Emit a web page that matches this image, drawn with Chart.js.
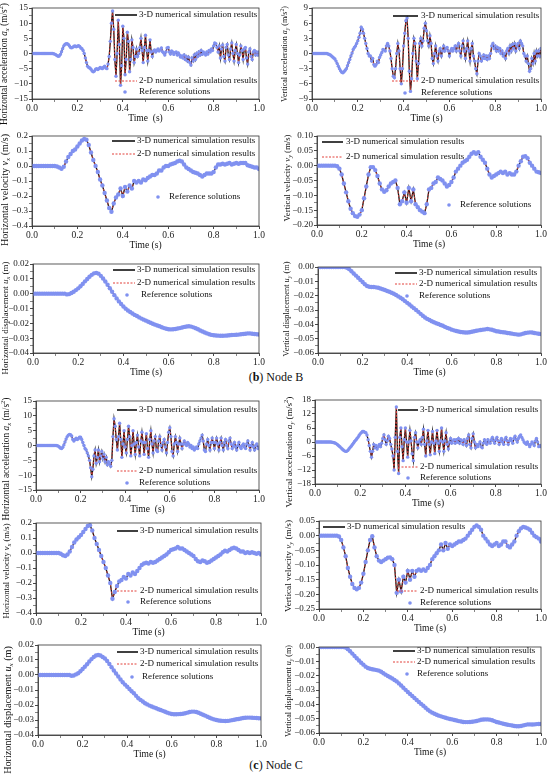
<!DOCTYPE html>
<html>
<head>
<meta charset="utf-8">
<script src="https://cdn.jsdelivr.net/npm/chart.js@4.4.1/dist/chart.umd.min.js"></script>
<style>
html, body { margin: 0; padding: 0; background: #fff; }
#page { position: relative; width: 550px; height: 776px; overflow: hidden; }
#page canvas { position: absolute; }
.cap { position: absolute; left: 0; width: 552px; text-align: center; font-family: 'Liberation Serif', serif; font-size: 12px; line-height: 14px; color: #111; }
</style>
</head>
<body>
<div id="page">
  <div class="cap" style="top:370px">(<b>b</b>) Node B</div>
  <div class="cap" style="top:758px">(<b>c</b>) Node C</div>
</div>
<script>
// axis ticks
const timeTicks = [0, 0.2, 0.4, 0.6, 0.8, 1.0];
const accTicksBx = [-15, -10, -5, 0, 5, 10, 15];
const accTicksBy = [-9, -6, -3, 0, 3, 6, 9];
const accTicksCx = [-15, -10, -5, 0, 5, 10, 15];
const accTicksCy = [-18, -12, -6, 0, 6, 12, 18];
const velTicksX = [-0.4, -0.3, -0.2, -0.1, 0, 0.1, 0.2];
const velTicksBy = [-0.20, -0.15, -0.10, -0.05, 0, 0.05, 0.10];
const velTicksCy = [-0.25, -0.20, -0.15, -0.10, -0.05, 0, 0.05];
const dispTicksX = [-0.04, -0.03, -0.02, -0.01, 0, 0.01, 0.02];
const dispTicksY = [-0.06, -0.05, -0.04, -0.03, -0.02, -0.01, 0];

const seriesNames = ['3-D numerical simulation results', '2-D numerical simulation results', 'Reference solutions'];

// Node B, sampled every 0.005 s (acceleration) or 0.01 s
const bAx = [
  0,0,0,0,0,0,0,0,0,0,
  0,0,0,0,0,0,0,0,0,-0.1,
  -0.2,-0.4,-0.7,-0.9,-0.8,-0.3,0.6,1.6,2.5,3.0,
  3.2,3.2,3.0,2.5,2.0,1.9,2.1,2.4,2.5,2.2,
  2.4,2.6,2.3,1.8,1.6,1.0,0,-1.5,-3.0,-4.2,
  -4.6,-4.8,-5.2,-5.8,-6.0,-5.8,-5.2,-5.0,-5.3,-5.0,
  -4.6,-4.8,-5.0,-4.5,-4.2,-4.8,-5.0,-3.5,-1.0,4,
  10,14,8,-2,-7.5,0,11,3,-10.5,-4,
  9,5,-7,-2,7,4,-6,-2,4.5,2,
  -3,-1,1.5,-1,0,2,5,1,-3,2,
  6,1,-2.5,1,4.5,0.5,-1,0.8,1.2,0.5,
  1.0,1.5,0.8,1.2,1.8,0.6,0.2,-0.5,0.5,1.8,
  2.0,0.5,-0.2,0.8,0.5,-0.3,0.3,0.5,-0.5,0.2,
  -0.5,-1.2,-0.8,-1.5,-0.5,-2.0,-1.0,-2.5,-1.2,-3.0,
  -3.8,-1.5,-2.5,-0.5,-2.0,0,-1.0,0.5,-0.5,1.0,
  -0.3,0.5,0,-0.5,0.5,-0.2,1.0,0.5,1.5,1.0,
  2.5,3.5,3.2,2.0,0.5,2.5,-1.5,1.5,2.8,-1.0,
  -2.5,2.0,3.0,-0.5,-2.0,1.5,3.5,0,-2.5,1.0,
  3.0,0,-3.0,-0.5,2.5,1.0,-2.0,1.5,2.0,-1.5,
  -3.5,0.5,1.5,-1.0,-2.0,0.5,1.0,-0.5,0.5,-0.5,
  0.5
];
const bAy = [
  0,0,0,0,0,0,0,0,0,0,
  0,0,0,0,-0.1,-0.2,-0.3,-0.5,-0.7,-0.9,
  -1.1,-1.5,-2.0,-2.5,-3.0,-3.4,-3.7,-3.8,-3.6,-3.3,
  -3.0,-2.4,-1.8,-1.2,-0.5,0.1,0.8,1.2,1.5,2.0,
  2.5,3.2,4.0,5.2,4.8,4.0,3.0,2.0,1.0,0,
  -0.5,-0.5,-1.5,-1.0,-2.2,-2.5,-2.2,-1.5,-1.8,-0.8,
  -0.3,0.2,0.8,0.7,0.5,1.5,2.0,1.5,0.5,-1.0,
  -3.0,-4.5,-4.8,-3.0,0,2.0,0.5,-3.0,-6.0,-3.0,
  1.5,4.0,6.5,7.0,3.0,-3.5,-7.5,-5.0,0,3.0,
  2.0,-1.5,-5.0,-2.0,2.0,3.0,1.5,2.5,5.0,6.0,
  4.5,2.5,1.5,3.5,2.0,-1.0,-2.0,0,1.5,-0.5,
  -1.5,0.5,1.0,-0.5,0.5,1.5,0.5,1.0,1.2,0.5,
  -0.5,0.5,1.0,0.5,1.0,1.5,0.5,1.5,2.0,0.5,
  -0.5,1.5,2.5,0.5,-1.0,1.0,2.5,0.5,-1.5,1.0,
  2.0,-0.5,-1.5,-3.0,-4.0,-1.5,0,-0.5,-1.5,-1.0,
  -0.3,-1.0,-0.5,-1.2,-0.5,-1.0,0,1.5,2.0,1.0,
  1.5,0.5,1.2,0.5,1.0,0,0.5,-0.5,0,-1.0,
  0.5,1.0,0,1.5,0.5,1.8,1.0,2.0,0.5,1.5,
  2.0,1.0,2.5,2.0,1.5,0,-0.5,-1.5,-0.5,-2.0,
  -3.5,-3.0,-1.0,-2.0,0,-1.5,0.5,-0.5,0.5,-0.5,
  1.0
];
const bVx = [
  0,0,0,0,0,0,0,0,0,0,
  0,-0.003,-0.01,-0.018,-0.005,0.03,0.06,0.08,0.10,0.11,
  0.13,0.15,0.17,0.18,0.175,0.14,0.09,0.04,0.0,-0.04,
  -0.09,-0.13,-0.18,-0.23,-0.28,-0.305,-0.25,-0.21,-0.19,-0.15,
  -0.20,-0.14,-0.17,-0.13,-0.15,-0.10,-0.11,-0.10,-0.11,-0.09,
  -0.095,-0.08,-0.07,-0.06,-0.06,-0.05,-0.03,-0.03,-0.01,0.0,
  0.0,0.01,0.015,0.02,0.03,0.035,0.03,0.01,-0.01,-0.02,
  -0.03,-0.04,-0.045,-0.05,-0.06,-0.07,-0.06,-0.05,-0.05,-0.05,
  -0.04,-0.01,0.01,0.01,0.015,0.01,0.015,0.02,0.01,0.015,
  0.02,0.015,0.02,0.02,0.02,0.005,0.0,-0.005,-0.01,-0.01,
  -0.02
];
const bVy = [
  0,0,0,0,0,0,0,0,0,-0.002,
  -0.01,-0.03,-0.06,-0.09,-0.12,-0.145,-0.16,-0.17,-0.172,-0.165,
  -0.15,-0.11,-0.07,-0.03,-0.005,-0.005,-0.015,-0.035,-0.06,-0.08,
  -0.088,-0.083,-0.07,-0.06,-0.055,-0.05,-0.075,-0.13,-0.12,-0.09,
  -0.125,-0.075,-0.12,-0.08,-0.13,-0.14,-0.15,-0.155,-0.16,-0.13,
  -0.08,-0.075,-0.06,-0.055,-0.04,-0.045,-0.05,-0.06,-0.07,-0.065,
  -0.055,-0.04,-0.02,-0.01,0.0,0.01,0.015,0.02,0.03,0.04,
  0.045,0.04,0.045,0.03,0.02,0.01,-0.01,-0.03,-0.04,-0.035,
  -0.03,-0.025,-0.02,-0.025,-0.02,-0.03,-0.025,-0.03,-0.03,-0.02,
  0.0,0.015,0.03,0.032,0.025,0.01,0.0,-0.01,-0.02,-0.022,
  -0.025
];
const bUx = [
  0,0,0,0,0,0,0,0,0,0,
  0,0,0,0,0,-0.0005,-0.0003,0.0005,0.0013,0.0024,
  0.0036,0.005,0.0066,0.0083,0.0099,0.0114,0.0127,0.0137,0.014,0.0135,
  0.012,0.0102,0.0082,0.006,0.0037,0.0013,-0.001,-0.0032,-0.0052,-0.007,
  -0.0087,-0.0101,-0.0113,-0.0124,-0.0134,-0.0143,-0.0151,-0.016,-0.0168,-0.0175,
  -0.0182,-0.0189,-0.0196,-0.0203,-0.0209,-0.0215,-0.022,-0.0226,-0.0232,-0.0237,
  -0.024,-0.0241,-0.024,-0.0238,-0.0235,-0.0232,-0.0228,-0.0224,-0.0221,-0.022,
  -0.0222,-0.0227,-0.0233,-0.024,-0.0248,-0.0255,-0.0262,-0.0268,-0.0274,-0.0278,
  -0.028,-0.0282,-0.0283,-0.0284,-0.0284,-0.0283,-0.0282,-0.028,-0.0279,-0.0278,
  -0.0277,-0.0276,-0.0274,-0.0272,-0.027,-0.0268,-0.0268,-0.027,-0.0272,-0.0274,
  -0.0275
];
const bUy = [
  0,0,0,0,0,0,0,0,0,0,
  0,0,0,-0.0005,-0.0015,-0.003,-0.0045,-0.006,-0.0075,-0.009,
  -0.0105,-0.012,-0.0133,-0.0138,-0.014,-0.014,-0.0142,-0.0145,-0.015,-0.0155,
  -0.016,-0.0167,-0.0173,-0.018,-0.0187,-0.0195,-0.0205,-0.0215,-0.0225,-0.0238,
  -0.025,-0.0262,-0.0275,-0.0287,-0.03,-0.0313,-0.0327,-0.034,-0.0352,-0.0362,
  -0.037,-0.0378,-0.0385,-0.0392,-0.0398,-0.0405,-0.041,-0.0418,-0.0425,-0.043,
  -0.0437,-0.0442,-0.0447,-0.045,-0.0453,-0.0455,-0.0457,-0.0457,-0.0455,-0.0452,
  -0.0448,-0.0445,-0.0442,-0.044,-0.0437,-0.0435,-0.0433,-0.0435,-0.0438,-0.0443,
  -0.0448,-0.045,-0.0453,-0.0455,-0.0457,-0.046,-0.0462,-0.0465,-0.0468,-0.047,
  -0.0472,-0.047,-0.0465,-0.046,-0.0458,-0.0456,-0.0457,-0.046,-0.0463,-0.0466,
  -0.0468
];

// Node C
const cAx = [
  0,0,0,0,0,0,0,0,0,0,
  0,0,0,0,0,0,0,0,0,-0.1,
  -0.2,-0.5,-0.9,-1.0,-0.6,0.2,1.2,2.2,3.0,3.5,
  3.7,3.6,3.2,2.0,1.5,2.0,2.5,2.0,2.3,2.8,
  2.8,2.0,1.0,0,-1.0,-1.5,-2.5,-3.5,-5.0,-7.5,
  -10.5,-8,-3.5,-1.5,-6,-4,-1.5,-5.5,-3.5,-2.0,
  -4.5,-3.0,-5.5,-4.0,-6.5,-5.5,-6.0,-7.0,-5.0,3.0,
  9.0,6.5,2.0,-1.5,3.0,7.5,2.0,-4.0,0.5,5.0,
  -0.5,-2.5,2.0,6.5,3.0,-3.5,0,5.0,0.5,-3.0,
  1.0,3.5,-0.5,-3.5,1.5,4.5,1.0,-3.0,1.0,4.0,
  -1.0,-4.0,2.0,5.0,0.5,-2.5,1.5,3.0,-1.5,-2.0,
  1.5,3.0,0,-1.5,1.0,2.0,-0.5,-2.5,1.0,4.5,
  6.0,3.0,-2.0,-3.5,0.5,3.0,1.0,-2.0,0.5,2.5,
  0.5,-1.0,0.5,1.5,0.5,0,1.0,0.5,-0.5,0,
  -1.0,-0.5,-1.5,-1.0,-0.5,-1.0,0.5,1.5,2.5,3.5,
  1.5,-1.5,-2.0,0.5,2.0,0,-1.5,1.0,2.5,1.0,
  -1.0,1.0,2.5,0.5,-1.5,1.0,2.5,0,-1.5,1.0,
  2.0,0,-1.0,1.5,2.5,0.5,-1.0,0,1.0,-0.5,
  -1.5,0,1.0,-0.5,-1.0,0,0.5,-0.5,-1.0,0.5,
  1.5,0,-1.5,0,1.0,-0.5,-1.5,0,0.5,-1.0,
  -0.5
];
const cAy = [
  0,0,0,0,0,0,0,0,0,0,
  0,0,0,0,0,-0.1,-0.2,-0.3,-0.5,-0.8,
  -1.2,-1.6,-2.0,-2.5,-3.0,-3.4,-3.8,-4.0,-4.0,-3.6,
  -3.0,-2.4,-1.8,-1.2,-0.5,0.2,0.8,1.4,2.0,2.8,
  3.5,4.0,4.5,4.5,4.2,4.0,3.0,1.0,-1.5,-4.0,
  -6.5,-4.0,-1.0,-2.5,-1.5,-3.0,-2.0,-1.0,-2.0,-0.5,
  1.5,3.0,1.0,-1.0,0.5,2.5,1.5,-1.0,-3.0,-6.0,
  -12.0,2.0,15.0,-4.0,-13.5,2.0,6.0,-2.0,-8.0,1.0,
  6.0,0,-6.5,0,5.0,0.5,-5.0,-8.0,2.0,4.0,
  0,-2.5,0,1.0,-1.0,2.0,5.5,-1.0,-6.0,0.5,
  5.0,-1.0,-5.5,0,4.5,-0.5,-5.0,0.5,5.0,-0.5,
  -4.0,0.5,6.0,0,-4.0,0.5,4.0,-1.0,-3.0,0,
  1.5,-0.5,0.5,1.0,-0.5,1.0,0,1.5,-0.5,1.0,
  0.5,-1.0,1.0,0,-1.5,1.5,3.0,-1.0,-2.5,1.5,
  3.5,0,-2.5,-1.0,-2.0,-1.0,0,-2.0,-2.5,-0.5,
  1.0,0,-1.0,1.0,0,-0.5,1.0,2.0,0.5,-0.5,
  1.0,2.0,0.5,-1.0,0.5,1.5,0,-1.0,1.0,2.0,
  0.5,-1.0,0.5,1.5,0.5,-0.5,1.5,2.5,1.0,0,
  1.5,2.5,3.0,2.0,1.0,0,-0.5,-1.0,0,-1.0,
  -2.0,-1.0,0,-0.5,-1.5,0.5,1.5,0,-2.0,-1.5,
  -2.0
];
const cVx = [
  0,0,0,0,0,0,0,0,0,0,
  0,-0.005,-0.015,-0.02,-0.01,0.01,0.04,0.07,0.09,0.105,
  0.12,0.14,0.16,0.18,0.185,0.15,0.10,0.06,0.02,-0.02,
  -0.06,-0.10,-0.15,-0.20,-0.305,-0.26,-0.22,-0.19,-0.18,-0.16,
  -0.17,-0.14,-0.15,-0.13,-0.14,-0.12,-0.10,-0.08,-0.07,-0.065,
  -0.07,-0.06,-0.065,-0.06,-0.05,-0.04,-0.03,-0.02,-0.01,0.005,
  0.02,0.025,0.03,0.04,0.03,0.03,0.02,0.01,0.0,-0.01,
  -0.02,-0.04,-0.055,-0.06,-0.05,-0.055,-0.065,-0.06,-0.05,-0.04,
  -0.03,-0.02,-0.01,0.005,0.015,0.01,0.02,0.03,0.035,0.03,
  0.02,0.01,0.01,0.0,0.005,0.0,0.005,0.0,-0.005,0.0,
  -0.01
];
const cVy = [
  0,0,0,0,0,0,0,0,0,-0.003,
  -0.015,-0.04,-0.07,-0.11,-0.14,-0.165,-0.178,-0.183,-0.178,-0.16,
  -0.13,-0.09,-0.05,-0.015,-0.002,-0.04,-0.07,-0.085,-0.09,-0.085,
  -0.08,-0.075,-0.074,-0.08,-0.10,-0.195,-0.15,-0.19,-0.14,-0.16,
  -0.12,-0.15,-0.12,-0.14,-0.12,-0.115,-0.12,-0.115,-0.12,-0.11,
  -0.10,-0.08,-0.07,-0.06,-0.05,-0.03,-0.05,-0.025,-0.045,-0.03,
  -0.035,-0.03,-0.025,-0.02,-0.02,-0.015,-0.01,0.0,0.01,0.02,
  0.03,0.035,0.03,0.02,0.0,-0.01,-0.02,-0.03,-0.035,-0.03,
  -0.025,-0.035,-0.03,-0.02,-0.02,-0.035,-0.04,-0.03,-0.02,0.0,
  0.015,0.025,0.03,0.028,0.025,0.02,0.01,0.0,-0.005,-0.01,
  -0.02
];
const cUx = [
  0,0,0,0,0,0,0,0,0,0,
  0,0,0,0,0,-0.0005,-0.0003,0.0004,0.0012,0.0025,
  0.004,0.0055,0.0072,0.009,0.0106,0.012,0.013,0.0133,0.013,0.012,
  0.011,0.0093,0.0073,0.0052,0.003,0.001,-0.001,-0.003,-0.0048,-0.0064,
  -0.0078,-0.0093,-0.0108,-0.0122,-0.0139,-0.0155,-0.0166,-0.0177,-0.0188,-0.0196,
  -0.0204,-0.021,-0.0216,-0.0222,-0.0228,-0.0233,-0.0239,-0.0245,-0.0251,-0.0256,
  -0.026,-0.0262,-0.0262,-0.0261,-0.026,-0.0258,-0.0255,-0.0251,-0.0247,-0.0244,
  -0.0244,-0.0247,-0.0252,-0.0258,-0.0265,-0.0271,-0.0278,-0.0285,-0.0291,-0.0296,
  -0.03,-0.0303,-0.0305,-0.0306,-0.0307,-0.0306,-0.0304,-0.0301,-0.0298,-0.0295,
  -0.0293,-0.029,-0.0287,-0.0285,-0.0284,-0.0284,-0.0285,-0.0286,-0.0287,-0.0288,
  -0.0289
];
const cUy = [
  0,0,0,0,0,0,0,0,0,0,
  0,0,-0.0004,-0.0015,-0.003,-0.0046,-0.0062,-0.0078,-0.0094,-0.011,
  -0.0123,-0.0137,-0.0147,-0.0152,-0.0155,-0.0158,-0.0161,-0.0165,-0.0173,-0.0183,
  -0.0193,-0.0202,-0.0211,-0.022,-0.023,-0.024,-0.0254,-0.0269,-0.0284,-0.0299,
  -0.0314,-0.0328,-0.0342,-0.0356,-0.037,-0.0384,-0.0397,-0.041,-0.0424,-0.0437,
  -0.0449,-0.0458,-0.0466,-0.0473,-0.0479,-0.0484,-0.0489,-0.0494,-0.0498,-0.0502,
  -0.0505,-0.0509,-0.0513,-0.0517,-0.052,-0.0523,-0.0524,-0.0524,-0.0523,-0.0521,
  -0.0519,-0.0516,-0.0512,-0.0508,-0.0506,-0.0505,-0.0505,-0.0507,-0.0511,-0.0517,
  -0.0523,-0.0527,-0.0531,-0.0535,-0.0539,-0.0542,-0.0545,-0.0548,-0.0551,-0.0553,
  -0.0553,-0.0551,-0.0547,-0.0543,-0.054,-0.054,-0.0541,-0.054,-0.0538,-0.0537,
  -0.0537
];

// y axis title pieces: [text, style]  style: '' normal, 'i' italic, 'sub', 'sup'
function yLabel(words, sym, dir, unit, squared) {
  var s = [[words + ' ', ''], [sym, 'i'], [dir, 'sub'], [' (' + unit, '']];
  if (squared) s.push(['2', 'sup']);
  s.push([')', '']);
  return s;
}

// box = plot frame [left, top, right, bottom] on the page; yt = [x, centre y, length] of y title
// leg = [series, x1, x2, y, text x]
var panels = [
  { vals: bAx, ticks: accTicksBx, dec: 0, xt: 'Time  (s)', title: yLabel('Horizontal acceleration', 'a', 'x', 'm/s', true),
    box: [32, 8, 259, 99], yt: [5, 64, 122],
    leg: [[0, 115, 137, 15, 139], [1, 115, 137, 81, 139], [2, 125, 0, 92, 139]] },
  { vals: bAy, ticks: accTicksBy, dec: 0, xt: 'Time (s)', title: yLabel('Vertical acceleration', 'a', 'y', 'm/s', true),
    box: [312, 8, 541, 99], yt: [285, 54, 96],
    leg: [[0, 393, 418, 16, 421], [1, 392, 418, 81, 421], [2, 405, 0, 93, 421]] },
  { vals: bVx, ticks: velTicksX, dec: 1, xt: 'Time (s)', title: yLabel('Horizontal velocity', 'v', 'x', 'm/s', false),
    box: [32, 136, 259, 226], yt: [5, 190, 112],
    leg: [[0, 112, 135, 141, 137], [1, 112, 135, 154, 137], [2, 158, 0, 197, 169]] },
  { vals: bVy, ticks: velTicksBy, dec: 2, xt: 'Time (s)', title: yLabel('Vertical velocity', 'v', 'y', 'm/s', false),
    box: [317, 136, 541, 225], yt: [288, 178, 87],
    leg: [[0, 322, 343, 142, 346], [1, 322, 343, 157, 346], [2, 449, 0, 205, 460]] },
  { vals: bUx, ticks: dispTicksX, dec: 2, xt: 'Time (s)', title: yLabel('Horizontal displacement', 'u', 'x', 'm', false),
    box: [33, 264, 259, 353], yt: [6, 318, 113],
    leg: [[0, 113, 135, 270, 137], [1, 113, 135, 283, 137], [2, 127, 0, 295, 141]] },
  { vals: bUy, ticks: dispTicksY, dec: 2, xt: 'Time (s)', title: yLabel('Vertical displacement', 'u', 'y', 'm', false),
    box: [318, 267, 541, 353], yt: [287, 309, 95],
    leg: [[0, 395, 417, 273, 419], [1, 395, 417, 284, 419], [2, 407, 0, 296, 419]] },
  { vals: cAx, ticks: accTicksCx, dec: 0, xt: 'Time  (s)', title: yLabel('Horizontal acceleration', 'a', 'x', 'm/s', true),
    box: [36, 401, 259, 490], yt: [7, 459, 123],
    leg: [[0, 117, 137, 410, 139], [1, 117, 137, 471, 139], [2, 127, 0, 483, 139]] },
  { vals: cAy, ticks: accTicksCy, dec: 0, xt: 'Time (s)', title: yLabel('Vertical acceleration', 'a', 'y', 'm/s', true),
    box: [315, 400, 541, 484], yt: [290, 452, 111],
    leg: [[0, 398, 418, 410, 420], [1, 398, 418, 467, 420], [2, 408, 0, 478, 420]] },
  { vals: cVx, ticks: velTicksX, dec: 1, xt: 'Time (s)', title: yLabel('Horizontal velocity', 'v', 'x', 'm/s', false),
    box: [36, 523, 261, 613], yt: [7, 571, 95],
    leg: [[0, 117, 138, 531, 140], [1, 117, 138, 591, 140], [2, 128, 0, 602, 140]] },
  { vals: cVy, ticks: velTicksCy, dec: 2, xt: 'Time (s)', title: yLabel('Vertical velocity', 'v', 'y', 'm/s', false),
    box: [319, 521, 541, 609], yt: [289, 566, 92],
    leg: [[0, 323, 345, 527, 347], [1, 397, 418, 591, 420], [2, 410, 0, 603, 420]] },
  { vals: cUx, ticks: dispTicksX, dec: 2, xt: 'Time (s)', title: yLabel('Horizontal displacement', 'u', 'x', 'm', false),
    box: [38, 645, 261, 735], yt: [8, 710, 128],
    leg: [[0, 117, 138, 652, 140], [1, 117, 138, 664, 140], [2, 132, 0, 677, 142]] },
  { vals: cUy, ticks: dispTicksY, dec: 2, xt: 'Time (s)', title: yLabel('Vertical displacement', 'u', 'y', 'm', false),
    box: [319, 647, 541, 733], yt: [289, 691, 92],
    leg: [[0, 393, 415, 651, 417], [1, 393, 415, 662, 417], [2, 407, 0, 674, 417]] }
];

var FONT = '"Liberation Serif", "Times New Roman", serif';
var BLUE = 'rgb(128,145,240)';
var RED = '#e2403a';
var BLACK = '#111';

function withMinor(arr) {
  var out = [];
  for (var i = 0; i < arr.length; i++) {
    out.push({ value: arr[i], lab: true });
    if (i < arr.length - 1) out.push({ value: (arr[i] + arr[i + 1]) / 2, lab: false });
  }
  return out;
}

function fmt(v, dec) {
  var s = Math.abs(v).toFixed(dec);
  return (v < -1e-9 ? '\u2212' : '') + s;
}

function toPoints(vals) {
  var tEnd = timeTicks[timeTicks.length - 1];
  return vals.map(function (v, i) { return { x: i * tEnd / (vals.length - 1), y: v }; });
}

function drawRich(ctx, segs, cx, cy, len) {
  function fontFor(st, sz) {
    var small = (st == 'sub' || st == 'sup');
    var ital = (st == 'i' || st == 'sub');
    return (ital ? 'italic ' : '') + (small ? sz * 0.7 : sz).toFixed(2) + 'px ' + FONT;
  }
  var base = 10, total = 0;
  segs.forEach(function (s) { ctx.font = fontFor(s[1], base); total += ctx.measureText(s[0]).width; });
  var size = base * len / total;
  var widths = segs.map(function (s) { ctx.font = fontFor(s[1], size); return ctx.measureText(s[0]).width; });
  var full = widths.reduce(function (a, b) { return a + b; }, 0);
  ctx.save();
  ctx.translate(cx, cy);
  ctx.rotate(-Math.PI / 2);
  ctx.fillStyle = '#111';
  ctx.textBaseline = 'middle';
  ctx.textAlign = 'left';
  var x = -full / 2;
  segs.forEach(function (s, i) {
    ctx.font = fontFor(s[1], size);
    var dy = s[1] == 'sub' ? size * 0.28 : (s[1] == 'sup' ? -size * 0.36 : 0);
    ctx.fillText(s[0], x, dy);
    x += widths[i];
  });
  ctx.restore();
}

var page = document.getElementById('page');

panels.forEach(function (p) {
  var col = p.box[0] > 275 ? 1 : 0;
  var ox = col * 275, oy = p.box[1] - 7;
  var w = 275, h = p.box[3] - oy + 25 + 22;
  var cv = document.createElement('canvas');
  cv.width = w; cv.height = h;
  cv.style.left = ox + 'px'; cv.style.top = oy + 'px';
  page.appendChild(cv);

  var pts = toPoints(p.vals);
  var yt = p.ticks;
  var dotR = p.vals.length > 150 ? 1.7 : 2.2;

  var deco = {
    id: 'deco',
    afterDraw: function (chart) {
      var ctx = chart.ctx, a = chart.chartArea;
      ctx.save();
      ctx.strokeStyle = '#333';
      ctx.lineWidth = 0.8;
      ctx.strokeRect(a.left, a.top, a.right - a.left, a.bottom - a.top);

      // legend, split the way the original places it
      ctx.font = '9px ' + FONT;
      ctx.textBaseline = 'middle';
      ctx.fillStyle = '#111';
      p.leg.forEach(function (e) {
        var y = e[3] - oy;
        if (e[0] == 0) {
          ctx.setLineDash([]); ctx.strokeStyle = BLACK; ctx.lineWidth = 1.6;
          ctx.beginPath(); ctx.moveTo(e[1] - ox, y); ctx.lineTo(e[2] - ox, y); ctx.stroke();
        } else if (e[0] == 1) {
          ctx.setLineDash([2, 1.5]); ctx.strokeStyle = RED; ctx.lineWidth = 1;
          ctx.beginPath(); ctx.moveTo(e[1] - ox, y); ctx.lineTo(e[2] - ox, y); ctx.stroke();
          ctx.setLineDash([]);
        } else {
          ctx.fillStyle = BLUE;
          ctx.beginPath(); ctx.arc(e[1] - ox, y, 1.8, 0, Math.PI * 2); ctx.fill();
          ctx.fillStyle = '#111';
        }
        ctx.fillText(seriesNames[e[0]], e[4] - ox, y);
      });
      ctx.restore();

      drawRich(ctx, p.title, p.yt[0] - ox, p.yt[1] - oy, p.yt[2]);
    }
  };

  new Chart(cv, {
    type: 'line',
    data: {
      datasets: [
        { label: seriesNames[2], data: pts, showLine: false, pointRadius: dotR, pointHoverRadius: 0,
          pointBackgroundColor: BLUE, pointBorderWidth: 0, order: 0 },
        { label: seriesNames[1], data: pts, borderColor: RED, borderWidth: 0.9, borderDash: [2, 1.5],
          pointRadius: 0, tension: 0, order: 1 },
        { label: seriesNames[0], data: pts, borderColor: BLACK, borderWidth: 1.3,
          pointRadius: 0, tension: 0, order: 2 }
      ]
    },
    options: {
      responsive: false,
      animation: false,
      events: [],
      layout: { padding: { top: 7, right: ox + w - p.box[2], bottom: 22, left: 0 } },
      scales: {
        x: {
          type: 'linear', min: timeTicks[0], max: timeTicks[timeTicks.length - 1],
          afterBuildTicks: function (s) { s.ticks = withMinor(timeTicks); },
          afterFit: function (s) { s.height = 25; },
          grid: { drawOnChartArea: false, tickLength: 3, color: '#333',
                  tickWidth: function (c) { return c.tick && c.tick.lab ? 0.9 : 0.6; } },
          border: { display: true, color: '#333', width: 0.8 },
          ticks: { autoSkip: false, maxRotation: 0, minRotation: 0, padding: 1, color: '#222',
                   font: { family: FONT, size: 9.5 },
                   callback: function (v, i, t) { return t[i].lab ? v.toFixed(1) : ''; } },
          title: { display: true, text: p.xt, color: '#111', font: { family: FONT, size: 9.5 },
                   padding: { top: 0, bottom: 0 } }
        },
        y: {
          type: 'linear', min: yt[0], max: yt[yt.length - 1],
          afterBuildTicks: function (s) { s.ticks = withMinor(yt); },
          afterFit: function (s) { s.width = p.box[0] - ox; },
          grid: { drawOnChartArea: false, tickLength: 3, color: '#333',
                  tickWidth: function (c) { return c.tick && c.tick.lab ? 0.9 : 0.6; } },
          border: { display: true, color: '#333', width: 0.8 },
          ticks: { autoSkip: false, padding: 1, color: '#222',
                   font: { family: FONT, size: 9 },
                   callback: function (v, i, t) { return t[i].lab ? fmt(v, p.dec) : ''; } }
        }
      },
      plugins: { legend: { display: false }, tooltip: { enabled: false } }
    },
    plugins: [deco]
  });
});
</script>
</body>
</html>
